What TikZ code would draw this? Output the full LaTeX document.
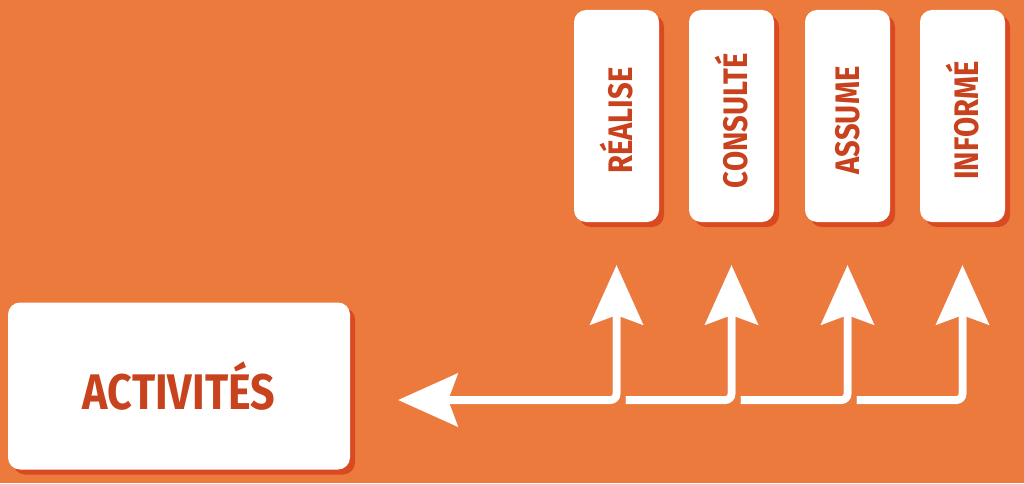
\documentclass[tikz,border=0pt]{standalone}
\usepackage{fontspec}
\setmainfont{Fira Sans}[FakeStretch=0.86]
\usetikzlibrary{arrows.meta,shadows,calc}
\definecolor{fondorange}{HTML}{EC7A3C}
\definecolor{ombre}{HTML}{D94A22}
\definecolor{texte}{HTML}{C8421E}
\tikzset{pointe/.tip={Stealth[length=60pt,width=54pt,inset=10pt,line width=0.1pt]}}
\newcommand{\vertical}[1]{\rotatebox{90}{#1\hspace{9pt}}}
\begin{document}
\begin{tikzpicture}[x=1pt,y=1pt,
    carte/.style={fill=white, rounded corners=12pt, inner sep=0pt, text=texte,
      drop shadow={shadow xshift=5pt, shadow yshift=-5pt, fill=ombre, opacity=1}},
    role/.style={carte, minimum width=85pt, minimum height=212pt,
      font=\bfseries\fontsize{34}{34}\selectfont},
    fleche/.style={line width=8pt, rounded corners=6pt, white},
    fleche ombre/.style={fleche, ombre, shift={(5,-5)}}]
  % fond
  \fill[fondorange] (0,0) rectangle (1024,483);
  \useasboundingbox (0,0) rectangle (1024,483);

  % cartes
  \node[carte, minimum width=342pt, minimum height=167pt,
    font=\bfseries\fontsize{50}{50}\selectfont] (activites) at (179,97) {ACTIVITÉS};
  \node[role] (realise) at (616.5,367) {\vertical{RÉALISE}};
  \node[role] (consulte) at (731.5,367) {\vertical{CONSULTÉ}};
  \node[role] (assume) at (847.5,367) {\vertical{ASSUME}};
  \node[role] (informe) at (962.5,367) {\vertical{INFORMÉ}};

  % points des fleches
  \coordinate (pied1) at (realise.south |- 0,83);
  \coordinate (pied2) at (consulte.south |- 0,83);
  \coordinate (pied3) at (assume.south |- 0,83);
  \coordinate (pied4) at (informe.south |- 0,83);
  \coordinate (retour) at ($(activites.east |- pied1)+(48,0)$);

  % fleches
  \foreach \style in {fleche ombre, fleche} {
    \draw[\style, pointe-pointe] (retour) -- (pied1) -- ($(realise.south)+(0,-43)$);
    \draw[\style, -pointe] ($(pied1)+(9,0)$) -- (pied2) -- ($(consulte.south)+(0,-43)$);
    \draw[\style, -pointe] ($(pied2)+(9,0)$) -- (pied3) -- ($(assume.south)+(0,-43)$);
    \draw[\style, -pointe] ($(pied3)+(9,0)$) -- (pied4) -- ($(informe.south)+(0,-43)$);
  }
\end{tikzpicture}
\end{document}
